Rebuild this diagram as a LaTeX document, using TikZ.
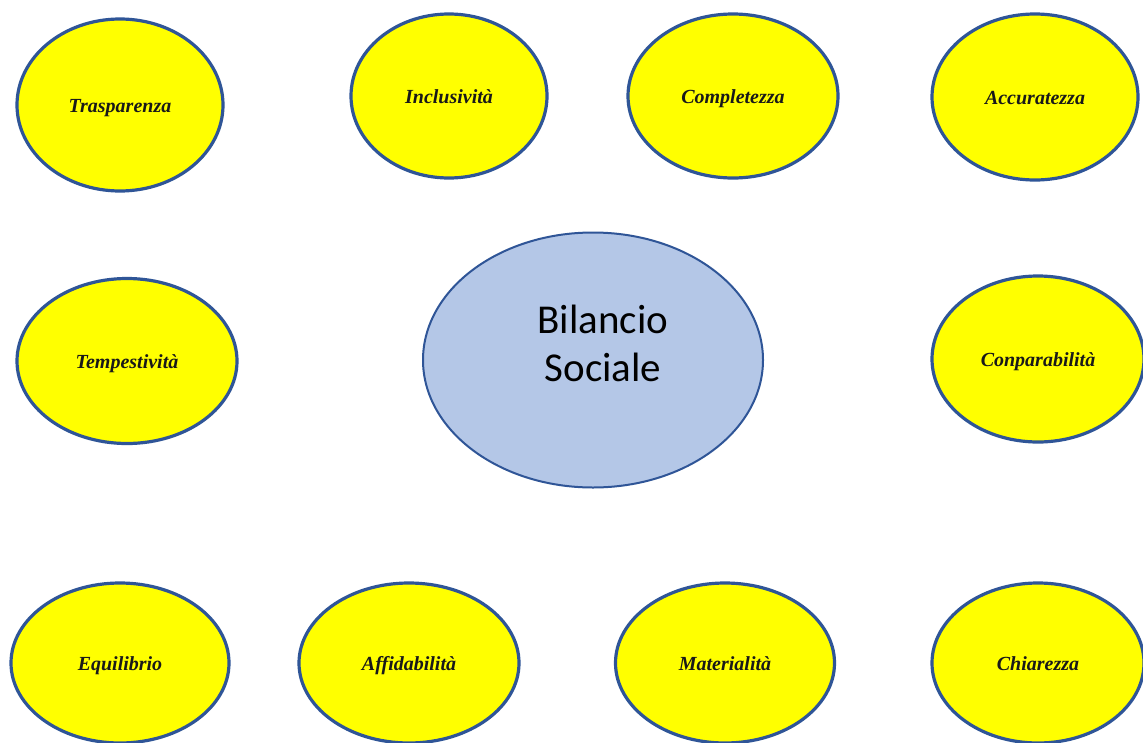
\documentclass[tikz,border=0pt]{standalone}
\usepackage{fontspec}
\setmainfont{Liberation Serif}
\newfontfamily\calib{Carlito}
\usetikzlibrary{shapes.geometric}
\definecolor{bordblue}{HTML}{2F5597}
\definecolor{yelfill}{HTML}{FFFF00}
\definecolor{centfill}{HTML}{B4C7E7}
\tikzset{
  quality/.style={ellipse, draw=bordblue, line width=3.2pt, fill=yelfill, inner sep=0pt,
    text height=14pt, text depth=0pt,
    font=\fontsize{20}{24}\selectfont\bfseries\itshape, text=black!90},
  core/.style={ellipse, draw=bordblue, line width=2pt, fill=centfill, inner sep=0pt},
  coretext/.style={align=center, font=\calib\fontsize{41}{48}\selectfont, text=black}
}
\begin{document}
\begin{tikzpicture}[x=1pt,y=-1pt]
\useasboundingbox (0,0) rectangle (1143,742);
\clip (0,0) rectangle (1143,742);
\fill[white] (0,0) rectangle (1143,742);
% top row
\node[quality, minimum width=206pt, minimum height=172pt] (trasp) at (120,105) {Trasparenza};
\node[quality, minimum width=196pt, minimum height=164pt] (incl) at (449,96) {Inclusività};
\node[quality, minimum width=210pt, minimum height=164pt] (compl) at (733,96) {Completezza};
\node[quality, minimum width=206pt, minimum height=166pt] (accur) at (1035,97) {Accuratezza};
% middle row
\node[quality, minimum width=220pt, minimum height=165pt] (tempe) at (127,361) {Tempestività};
\node[core, minimum width=340pt, minimum height=255pt] (bilancio) at (593,360) {};
\node[coretext] (bilanciotext) at (603,343) {Bilancio\\Sociale};
\node[quality, minimum width=212pt, minimum height=166pt] (compar) at (1038,359) {Conparabilità};
% bottom row
\node[quality, minimum width=218pt, minimum height=160pt] (equil) at (120,663) {Equilibrio};
\node[quality, minimum width=220pt, minimum height=160pt] (affid) at (409,663) {Affidabilità};
\node[quality, minimum width=219pt, minimum height=160pt] (mater) at (725,663) {Materialità};
\node[quality, minimum width=212pt, minimum height=160pt] (chiar) at (1038,663) {Chiarezza};
\end{tikzpicture}
\end{document}
